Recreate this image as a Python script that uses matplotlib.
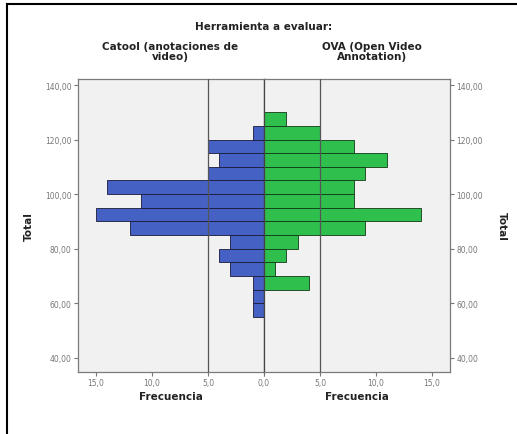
import matplotlib
matplotlib.use("Agg")
import matplotlib.pyplot as plt
from matplotlib.lines import Line2D
from matplotlib.ticker import FuncFormatter

# histogram bins (lower edge of each 5-point bin of "Total")
catool_bins = [55, 60, 65, 70, 75, 80, 85, 90, 95, 100, 105, 110, 115, 120]
catool_freq = [1, 1, 1, 3, 4, 3, 12, 15, 11, 14, 5, 4, 5, 1]

ova_bins = [65, 70, 75, 80, 85, 90, 95, 100, 105, 110, 115, 120, 125]
ova_freq = [4, 1, 2, 3, 9, 14, 8, 8, 9, 11, 8, 5, 2]

bin_width = 5
y_ticks = [40, 60, 80, 100, 120, 140]
x_ticks = [0, 5, 10, 15]

blue = "#4561c4"
green = "#2fbf4d"
frame = "#7a7a7a"
tick_col = "#777777"

fig = plt.figure(figsize=(5.17, 4.35), dpi=100)
W, H = 517, 435


def px_axes(x0, y0, x1, y1):
    return fig.add_axes([x0 / W, 1 - y1 / H, (x1 - x0) / W, (y1 - y0) / H])


ax_l = px_axes(78, 80, 264, 373)
ax_r = px_axes(264, 80, 450, 373)

ax_l.barh(catool_bins, catool_freq, height=bin_width, align="edge",
          color=blue, edgecolor="#1a1a3a", linewidth=0.6, zorder=2)
ax_r.barh(ova_bins, ova_freq, height=bin_width, align="edge",
          color=green, edgecolor="#103a18", linewidth=0.6, zorder=2)

fmt_y = FuncFormatter(lambda v, _: f"{v:.2f}".replace(".", ","))
fmt_x = FuncFormatter(lambda v, _: f"{v:.1f}".replace(".", ","))
# the shared 0,0 label is drawn once, by the right panel
fmt_x_left = FuncFormatter(lambda v, _: "" if v == 0 else f"{v:.1f}".replace(".", ","))

for ax in (ax_l, ax_r):
    ax.set_facecolor("#f1f1f1")
    ax.set_ylim(34.8, 142.2)
    ax.set_xlim(0, 16.6)
    ax.set_xticks(x_ticks)
    ax.set_yticks(y_ticks)
    ax.yaxis.set_major_formatter(fmt_y)
    ax.axvline(5, color="#555555", linewidth=0.9, zorder=3)
    for s in ax.spines.values():
        s.set_color(frame)
        s.set_linewidth(0.9)
    ax.tick_params(axis="both", colors=tick_col, labelsize=5.5, length=3,
                   width=0.8, direction="out", pad=1.5)
    ax.set_xlabel("Frecuencia", fontsize=7.5, fontweight="bold",
                  color="#222222", labelpad=3)

ax_l.xaxis.set_major_formatter(fmt_x_left)
ax_r.xaxis.set_major_formatter(fmt_x)
ax_l.invert_xaxis()
ax_l.yaxis.tick_left()
ax_r.yaxis.tick_right()
ax_l.spines["right"].set_color("#444444")
ax_r.spines["left"].set_color("#444444")

ax_l.set_ylabel("Total", fontsize=7.5, fontweight="bold", color="#222222", labelpad=8)
ax_r.yaxis.set_label_position("right")
ax_r.set_ylabel("Total", fontsize=7.5, fontweight="bold", color="#222222",
                rotation=270, labelpad=17)

fig.text(264 / W, 1 - 27 / H, "Herramienta a evaluar:", ha="center", va="center",
         fontsize=7.5, fontweight="bold", color="#222222")
fig.text(170 / W, 1 - 52 / H, "Catool (anotaciones de\nvideo)", ha="center",
         va="center", fontsize=7.5, fontweight="bold", color="#222222",
         linespacing=1.0)
fig.text(372 / W, 1 - 52 / H, "OVA (Open Video\nAnnotation)", ha="center",
         va="center", fontsize=7.5, fontweight="bold", color="#222222",
         linespacing=1.0)

# outer frame (only top and left edges are visible in the crop)
fig.add_artist(Line2D([7 / W, 7 / W], [0, 1 - 5 / H], transform=fig.transFigure,
                      color="black", linewidth=1.5))
fig.add_artist(Line2D([7 / W, 1], [1 - 5 / H, 1 - 5 / H], transform=fig.transFigure,
                      color="black", linewidth=1.5))

fig.savefig("out.png", dpi=100)
